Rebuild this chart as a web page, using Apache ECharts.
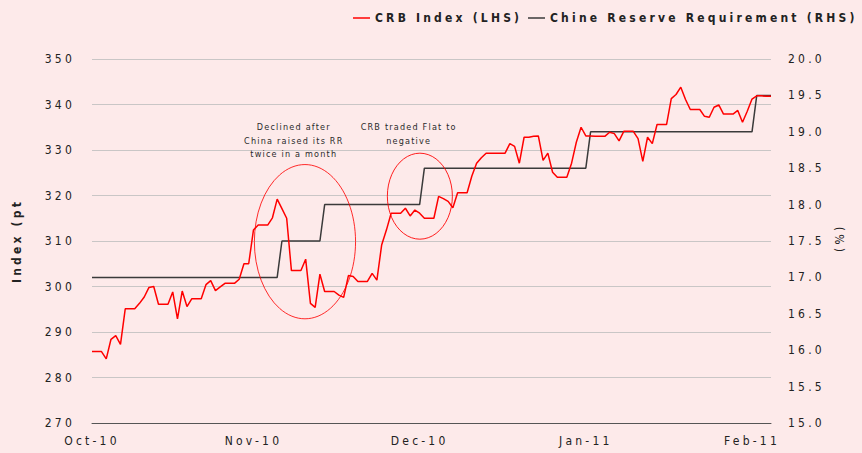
<!DOCTYPE html>
<html><head><meta charset="utf-8">
<script src="https://cdn.jsdelivr.net/npm/echarts@6/dist/echarts.min.js"></script>
<style>html,body{margin:0;padding:0;background:#fdeaea;}#c{width:862px;height:453px;}</style>
</head><body><div id="c"></div>
<script>
// CRB Index (LHS), one value per point
const crb = [
  285.7, 285.7, 285.7, 284.1, 288.4, 289.2, 287.3, 295.1, 295.1, 295.1,
  296.3, 297.7, 299.8, 300.0, 296.1, 296.1, 296.1, 298.8, 292.9, 299.0,
  295.6, 297.3, 297.3, 297.3, 300.4, 301.3, 299.1, 299.9, 300.7, 300.7,
  300.7, 301.6, 305.0, 305.0, 312.4, 313.5, 313.5, 313.5, 315.1, 319.2,
  317.1, 315.0, 303.5, 303.5, 303.5, 306.0, 296.3, 295.4, 302.7, 298.9,
  298.9, 298.9, 298.1, 297.6, 302.4, 302.2, 301.1, 301.1, 301.1, 302.9,
  301.4, 309.1, 312.4, 316.1, 316.1, 316.1, 317.2, 315.5, 316.8, 316.1,
  315.0, 315.0, 315.0, 319.8, 319.3, 318.7, 317.3, 320.6, 320.6, 320.6,
  324.3, 327.1, 328.3, 329.3, 329.3, 329.3, 329.3, 329.3, 331.4, 330.8,
  327.1, 332.8, 332.8, 333.0, 333.1, 327.7, 329.3, 325.1, 324.0, 324.0,
  324.0, 327.1, 331.7, 335.0, 333.1, 333.1, 333.0, 333.0, 333.0, 333.9,
  333.6, 332.0, 334.1, 334.1, 334.1, 332.5, 327.5, 332.8, 331.4, 335.6,
  335.6, 335.6, 341.3, 342.2, 343.8, 341.1, 338.9, 338.9, 338.9, 337.4,
  337.2, 339.4, 339.9, 337.9, 337.9, 337.9, 338.7, 336.1, 338.5, 341.2,
  341.9, 341.9, 341.8, 341.8
];
// China reserve requirement ratio (RHS, %)
const rrr = [
  17.0, 17.0, 17.0, 17.0, 17.0, 17.0, 17.0, 17.0, 17.0, 17.0,
  17.0, 17.0, 17.0, 17.0, 17.0, 17.0, 17.0, 17.0, 17.0, 17.0,
  17.0, 17.0, 17.0, 17.0, 17.0, 17.0, 17.0, 17.0, 17.0, 17.0,
  17.0, 17.0, 17.0, 17.0, 17.0, 17.0, 17.0, 17.0, 17.0, 17.0,
  17.5, 17.5, 17.5, 17.5, 17.5, 17.5, 17.5, 17.5, 17.5, 18.0,
  18.0, 18.0, 18.0, 18.0, 18.0, 18.0, 18.0, 18.0, 18.0, 18.0,
  18.0, 18.0, 18.0, 18.0, 18.0, 18.0, 18.0, 18.0, 18.0, 18.0,
  18.5, 18.5, 18.5, 18.5, 18.5, 18.5, 18.5, 18.5, 18.5, 18.5,
  18.5, 18.5, 18.5, 18.5, 18.5, 18.5, 18.5, 18.5, 18.5, 18.5,
  18.5, 18.5, 18.5, 18.5, 18.5, 18.5, 18.5, 18.5, 18.5, 18.5,
  18.5, 18.5, 18.5, 18.5, 18.5, 19.0, 19.0, 19.0, 19.0, 19.0,
  19.0, 19.0, 19.0, 19.0, 19.0, 19.0, 19.0, 19.0, 19.0, 19.0,
  19.0, 19.0, 19.0, 19.0, 19.0, 19.0, 19.0, 19.0, 19.0, 19.0,
  19.0, 19.0, 19.0, 19.0, 19.0, 19.0, 19.0, 19.0, 19.0, 19.0,
  19.5, 19.5, 19.5, 19.5
];
const categories = crb.map((_, i) => i);
const xTickIndex = [0, 34, 69, 104, 139];
const xTickLabels = ['Oct-10', 'Nov-10', 'Dec-10', 'Jan-11', 'Feb-11'];
const seriesNames = ['CRB Index (LHS)', 'Chine Reserve Requirement (RHS)'];
const leftAxisName = 'Index (pt';
const rightAxisName = '(%)';
// annotations in data units (point index, CRB value)
const notes = [
  { text: 'Declined after\nChina raised its RR\ntwice in a month', i: 42.5, v: 332.0 },
  { text: 'CRB traded Flat to\nnegative', i: 66.7, v: 333.5 }
];
const rings = [
  { i0: 34.2, i1: 55.5, v0: 292.9, v1: 326.8 },
  { i0: 62.2, i1: 75.9, v0: 310.4, v1: 329.3 }
];

const FONT = "'Liberation Sans Narrow','DejaVu Sans Condensed','Liberation Sans',sans-serif";
const TXT = '#222';
const chart = echarts.init(document.getElementById('c'), null, { renderer: 'svg' });

const option = {
  backgroundColor: '#fdeaea',
  animation: false,
  textStyle: { fontFamily: FONT },
  grid: { left: 92, right: 91, top: 59, bottom: 30, containLabel: false },
  legend: [
    { data: [seriesNames[0]], left: 353, top: 12, padding: 0, icon: 'rect', itemWidth: 17, itemHeight: 1.5,
      textStyle: { fontFamily: FONT, fontSize: 12, color: TXT, fontWeight: 'bold' } },
    { data: [seriesNames[1]], left: 528, top: 12, padding: 0, icon: 'rect', itemWidth: 17, itemHeight: 1.5,
      textStyle: { fontFamily: FONT, fontSize: 12, color: TXT, fontWeight: 'bold' } }
  ],
  xAxis: {
    type: 'category', data: categories, boundaryGap: false,
    axisTick: { show: false },
    axisLine: { lineStyle: { color: '#555', width: 1 } },
    axisLabel: {
      interval: (idx) => xTickIndex.includes(idx),
      formatter: (v, idx) => xTickLabels[xTickIndex.indexOf(idx)] || '',
      fontFamily: FONT, fontSize: 12, color: TXT, margin: 12
    }
  },
  yAxis: [
    { type: 'value', min: 270, max: 350, interval: 10, position: 'left',
      name: leftAxisName, nameLocation: 'middle', nameGap: 69,
      nameTextStyle: { fontFamily: FONT, fontSize: 12, color: TXT, fontWeight: 'bold' },
      axisLine: { show: false }, axisTick: { show: false },
      splitLine: { lineStyle: { color: '#c9c6c6', width: 1 } },
      axisLabel: { fontFamily: FONT, fontSize: 12, color: TXT, margin: 17, padding: [0, 0, 6, 0] } },
    { type: 'value', min: 15, max: 20, interval: 0.5, position: 'right',
      name: rightAxisName, nameLocation: 'middle', nameGap: 62, nameRotate: -90,
      nameTextStyle: { fontFamily: FONT, fontSize: 12, color: TXT },
      axisLine: { show: false }, axisTick: { show: false }, splitLine: { show: false },
      axisLabel: { fontFamily: FONT, fontSize: 12, color: TXT, margin: 17, padding: [0, 0, 6, 0],
        formatter: (v) => v.toFixed(1) } }
  ],
  series: [
    { name: seriesNames[0], type: 'line', data: crb, yAxisIndex: 0, showSymbol: false, symbol: 'none',
      lineStyle: { color: '#ff0000', width: 1.5 }, itemStyle: { color: '#ff0000' }, z: 3 },
    { name: seriesNames[1], type: 'line', data: rrr, yAxisIndex: 1, showSymbol: false, symbol: 'none',
      lineStyle: { color: '#3a3a3a', width: 1.5 }, itemStyle: { color: '#3a3a3a' }, z: 2 }
  ]
};
chart.setOption(option);

function P(i, v) {
  const a = chart.convertToPixel({ xAxisIndex: 0, yAxisIndex: 0 }, [0, v]);
  const b = chart.convertToPixel({ xAxisIndex: 0, yAxisIndex: 0 }, [categories.length - 1, v]);
  return [a[0] + (b[0] - a[0]) * i / (categories.length - 1), a[1]];
}
const graphics = [];
rings.forEach(r => {
  const [xl, yt] = P(r.i0, r.v1);
  const [xr, yb] = P(r.i1, r.v0);
  const rx = (xr - xl) / 2, ry = (yb - yt) / 2;
  graphics.push({ type: 'circle', shape: { cx: 0, cy: 0, r: ry }, x: (xl + xr) / 2, y: (yt + yb) / 2,
    scaleX: rx / ry, scaleY: 1, z: 10,
    style: { fill: 'none', stroke: '#ff0000', lineWidth: 1, strokeNoScale: true } });
});
notes.forEach(n => {
  const [x, y] = P(n.i, n.v);
  graphics.push({ type: 'text', x: x, y: y, z: 10,
    style: { text: n.text, fill: '#2a2a2a', fontFamily: FONT, fontSize: 9, lineHeight: 13.5,
      align: 'center', verticalAlign: 'middle' } });
});
chart.setOption({ graphic: graphics });

const noteLines = notes.flatMap(n => n.text.split('\n'));
function applySpacing() {
  document.querySelectorAll('#c svg text').forEach(t => {
    const s = t.textContent;
    t.setAttribute('letter-spacing', noteLines.includes(s) ? '1.2' : '3.2');
  });
}
chart.on('finished', applySpacing);
applySpacing();
setTimeout(applySpacing, 50);
</script></body></html>
